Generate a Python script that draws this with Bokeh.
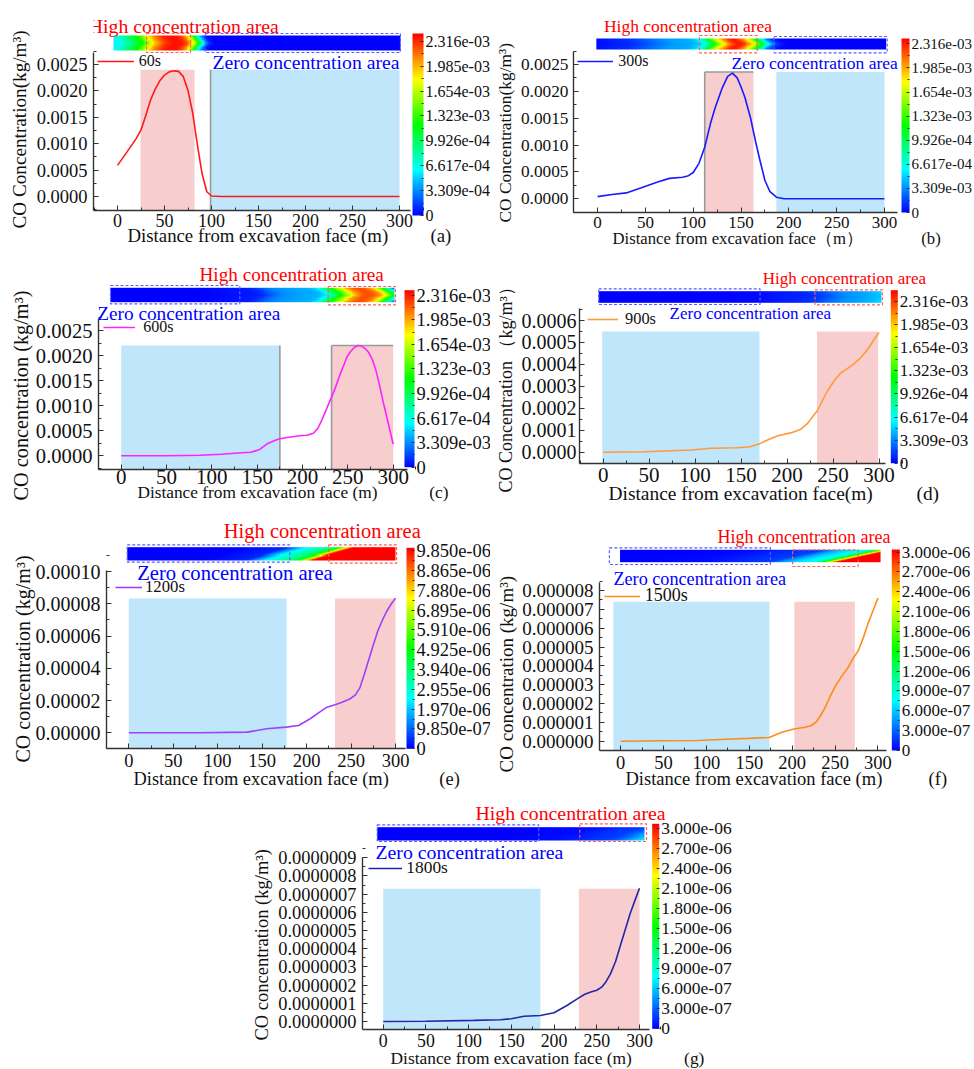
import colorsys
import numpy as np
from bokeh.core.properties import value
from bokeh.embed import file_html
from bokeh.layouts import column, row
from bokeh.models import (ColorBar, FixedTicker, Label, Legend, LegendItem,
                          LinearColorMapper, PrintfTickFormatter, Range1d, Spacer, Title)
from bokeh.plotting import figure
from bokeh.resources import INLINE

# ------------------------------------------------------------------ data
series_names = ["60s", "300s", "600s", "900s", "1200s", "1500s", "1800s"]
panel_letters = ["(a)", "(b)", "(c)", "(d)", "(e)", "(f)", "(g)"]
high_text = "High concentration area"
zero_text = "Zero concentration area"

dist_60 = [0, 10, 20, 25, 30, 35, 40, 45, 50, 55, 60, 65, 70, 75, 80, 85, 90, 95, 100, 110, 150, 200, 250, 300]
conc_60 = [0.00059, 0.00084, 0.00110, 0.00126, 0.00153, 0.00182, 0.00203, 0.00219, 0.00230, 0.00236, 0.00238,
           0.00237, 0.00227, 0.00201, 0.00158, 0.00098, 0.00043, 0.00009, 0.00001, 0.0, 0.0, 0.0, 0.0, 0.0]

dist_300 = [0, 15, 30, 45, 62, 75, 89, 95, 100, 106, 112, 118, 123, 130, 136, 141, 146, 150, 154, 160, 165,
            170, 175, 180, 187, 195, 250, 300]
conc_300 = [0.00004, 0.00008, 0.00011, 0.00020, 0.00031, 0.00038, 0.00040, 0.00043, 0.00049, 0.00066, 0.00096,
            0.00140, 0.00170, 0.00205, 0.00228, 0.00234, 0.00225, 0.00208, 0.00189, 0.00150, 0.00108, 0.00070,
            0.00034, 0.00014, 0.00003, 0.0, 0.0, 0.0]

dist_600 = [0, 50, 87, 110, 125, 143, 152, 161, 170, 175, 185, 197, 205, 212, 217, 221, 228, 235, 242, 249, 253,
            257, 261, 265, 269, 273, 277, 281, 285, 289, 293, 297, 300]
conc_600 = [0.0, 0.0, 0.00001, 0.00003, 0.00005, 0.00007, 0.00012, 0.00024, 0.00031, 0.00034, 0.00037, 0.00040,
            0.00041, 0.00045, 0.00055, 0.00070, 0.00100, 0.00130, 0.00165, 0.00197, 0.00208, 0.00216, 0.00220,
            0.00219, 0.00214, 0.00206, 0.00192, 0.00170, 0.00140, 0.00107, 0.00077, 0.00046, 0.00023]

dist_900 = [0, 45, 96, 117, 146, 160, 170, 180, 190, 204, 215, 222, 233, 244, 252, 258, 265, 272, 280, 288, 294, 300]
conc_900 = [0.0, 0.000002, 0.00001, 0.000018, 0.00002, 0.000025, 0.000038, 0.000058, 0.000075, 0.000088,
            0.000105, 0.00013, 0.00019, 0.00028, 0.00033, 0.00036, 0.00038, 0.0004, 0.00043, 0.00047, 0.00051,
            0.000545]

dist_1200 = [0, 80, 133, 155, 177, 191, 204, 215, 223, 232, 240, 249, 255, 260, 265, 270, 275, 280, 285, 290,
             295, 300]
conc_1200 = [0.0, 0.0, 0.0000004, 0.0000025, 0.0000035, 0.0000045, 0.0000087, 0.000013, 0.0000159, 0.0000174,
             0.000019, 0.0000211, 0.0000235, 0.000028, 0.0000365, 0.0000455, 0.0000545, 0.000063, 0.0000695,
             0.0000752, 0.0000797, 0.0000835]

dist_1500 = [0, 50, 90, 130, 150, 173, 188, 202, 215, 222, 228, 233, 238, 244, 250, 257, 265, 271, 277, 283,
             288, 294, 300]
conc_1500 = [0.0, 0.00000002, 0.00000004, 0.00000012, 0.00000015, 0.0000002, 0.00000048, 0.00000065,
             0.00000074, 0.00000082, 0.00000102, 0.00000135, 0.00000175, 0.00000235, 0.0000029, 0.0000034,
             0.0000039, 0.0000044, 0.0000048, 0.0000055, 0.0000062, 0.0000069, 0.0000076]

dist_1800 = [0, 50, 106, 137, 150, 165, 184, 200, 215, 229, 236, 243, 250, 256, 261, 266, 272, 277, 283, 289,
             295, 300]
conc_1800 = [0.0, 0.000000001, 0.000000006, 0.00000001, 0.000000015, 0.000000029, 0.000000033, 0.000000048,
             0.000000088, 0.00000013, 0.00000015, 0.000000162, 0.000000172, 0.00000019, 0.00000022,
             0.000000262, 0.00000033, 0.000000408, 0.0000005, 0.000000592, 0.00000067, 0.000000733]

# shaded areas on the charts (m) and their heights
zero_area = [[99, 300], [187, 300], [0, 175], [-1, 170], [0, 177.5], [-8.5, 173.5], [0, 184]]
high_area = [[24.5, 82], [112, 163], [232, 300], [232.5, 299], [232, 300], [202.5, 273], [229, 300]]
shade_top = [0.0024, 0.00236, 0.0022, 0.00055, 0.0000832, 0.0000074, 0.00000073]

# dashed boxes on the contour strips (m)
strip_zero = [[93.6, 301], [184.5, 302.8], [-11.8, 130.8], [-4.8, 170.6], [-1.8, 181.1], [-13.1, 174.6], [-7, 182.1]]
strip_high = [[30.9, 77.7], [106.6, 166.8], [228.3, 302.5], [230.3, 303.7], [225, 301.2], [200.5, 276.9], [230.1, 308.2]]

xticks = [0, 50, 100, 150, 200, 250, 300]
xminor = [-25, 25, 75, 125, 175, 225, 275, 325]

yt_abc = [0, 0.0005, 0.001, 0.0015, 0.002, 0.0025]
yl_abc = ["0.0000", "0.0005", "0.0010", "0.0015", "0.0020", "0.0025"]
yt_d = [0, 0.0001, 0.0002, 0.0003, 0.0004, 0.0005, 0.0006]
yl_d = ["0.0000", "0.0001", "0.0002", "0.0003", "0.0004", "0.0005", "0.0006"]
yt_e = [0, 0.00002, 0.00004, 0.00006, 0.00008, 0.0001]
yl_e = ["0.00000", "0.00002", "0.00004", "0.00006", "0.00008", "0.00010"]
yt_f = [0, 0.000001, 0.000002, 0.000003, 0.000004, 0.000005, 0.000006, 0.000007, 0.000008]
yl_f = ["0.000000", "0.000001", "0.000002", "0.000003", "0.000004", "0.000005", "0.000006", "0.000007", "0.000008"]
yt_g = [0, 1e-7, 2e-7, 3e-7, 4e-7, 5e-7, 6e-7, 7e-7, 8e-7, 9e-7]
yl_g = ["0.0000000", "0.0000001", "0.0000002", "0.0000003", "0.0000004", "0.0000005", "0.0000006",
        "0.0000007", "0.0000008", "0.0000009"]

cb_t1 = [0, 3.309e-4, 6.617e-4, 9.926e-4, 1.323e-3, 1.654e-3, 1.985e-3, 2.316e-3]
cb_l_a = ["0", "3.309e-04", "6.617e-04", "9.926e-04", "1.323e-03", "1.654e-03", "1.985e-03", "2.316e-03"]
cb_l_bcd = ["0", "3.309e-03", "6.617e-04", "9.926e-04", "1.323e-03", "1.654e-03", "1.985e-03", "2.316e-03"]
cb_t_e = [0, 9.85e-7, 1.97e-6, 2.955e-6, 3.94e-6, 4.925e-6, 5.91e-6, 6.895e-6, 7.88e-6, 8.865e-6, 9.85e-6]
cb_l_e = ["0", "9.850e-07", "1.970e-06", "2.955e-06", "3.940e-06", "4.925e-06", "5.910e-06", "6.895e-06",
          "7.880e-06", "8.865e-06", "9.850e-06"]
cb_t_fg = [0, 3e-7, 6e-7, 9e-7, 1.2e-6, 1.5e-6, 1.8e-6, 2.1e-6, 2.4e-6, 2.7e-6, 3e-6]
cb_l_fg = ["0", "3.000e-07", "6.000e-07", "9.000e-07", "1.200e-06", "1.500e-06", "1.800e-06", "2.100e-06",
           "2.400e-06", "2.700e-06", "3.000e-06"]
cb_high = [2.418e-3, 2.389e-3, 2.382e-3, 2.478e-3, 9.99e-6, 3.04e-6, 3.066e-6]

# ------------------------------------------------------------------ style
SERIF = "Liberation Serif"
PINK = "#f7cdcd"
SKY = "#bfe6fa"
TXT = "#111111"
AX = "#333333"
NBSP = "\u00a0"


def rainbow(n=256):
    out = []
    for i in range(n):
        t = i / (n - 1)
        r, g, b = colorsys.hsv_to_rgb((1 - t) * 240 / 360, 1, 1)
        out.append("#%02x%02x%02x" % (int(r * 255), int(g * 255), int(b * 255)))
    return out


RAINBOW = rainbow()


def strip_image(dist, conc, mode, amp, nrow=12, ncol=320):
    tx = np.linspace(0, 300, ncol)
    rows = []
    for r in range(nrow):
        f = r / (nrow - 1)
        s = amp * (1 - abs(2 * f - 1)) if mode == "chevron" else amp * f
        rows.append(np.interp(tx - s, dist, conc))
    return np.array(rows)


def style_axis(ax, tick_font, tick_standoff):
    ax.major_label_text_font = SERIF
    ax.major_label_text_font_size = f"{tick_font}px"
    ax.major_label_text_color = TXT
    ax.major_label_standoff = int(tick_standoff)
    ax.axis_line_color = AX
    ax.axis_line_width = 1.4
    ax.major_tick_line_color = AX
    ax.minor_tick_line_color = AX
    ax.major_tick_in = 5
    ax.major_tick_out = 0
    ax.minor_tick_in = 3
    ax.minor_tick_out = 0


def make_panel(i, g, dist, conc, line_color, yticks, ylabels, ytitle, xtitle, cb_ticks, cb_labels):
    left, top, w, h = g["fig"]
    fl, fr, ft, fb = g["frame"]
    x0p, x300p = g["xpx"]
    y0p, ytp, ytv = g["ypx"]
    xs = (x300p - x0p) / 300.0
    ys = (y0p - ytp) / ytv

    def dx(px):
        return (px - x0p) / xs

    def dy(py):
        return (y0p - py) / ys

    p = figure(width=w, height=h, x_range=Range1d(dx(fl), dx(fr)), y_range=Range1d(dy(fb), dy(ft)),
               output_backend="svg", toolbar_location=None,
               min_border_left=fl - left, min_border_right=left + w - fr,
               min_border_top=ft - top, min_border_bottom=top + h - fb,
               outline_line_color=None)
    p.grid.visible = False

    ybot = dy(fb)
    p.quad(left=[zero_area[i][0]], right=[zero_area[i][1]], bottom=[ybot], top=[shade_top[i]],
           fill_color=SKY, line_color=None)
    p.quad(left=[high_area[i][0]], right=[high_area[i][1]], bottom=[ybot], top=[shade_top[i]],
           fill_color=PINK, line_color=None)
    # grey edges drawn on some of the shaded areas
    for which, side in g.get("edges", []):
        a = zero_area[i] if which == "zero" else high_area[i]
        if side == "top":
            p.segment(x0=[a[0]], y0=[shade_top[i]], x1=[a[1]], y1=[shade_top[i]], line_color="#9a9a9a", line_width=1.6)
        else:
            xv = a[0] if side == "left" else a[1]
            p.segment(x0=[xv], y0=[ybot], x1=[xv], y1=[shade_top[i]], line_color="#9a9a9a", line_width=1.6)

    # contour strip
    mapper = LinearColorMapper(palette=RAINBOW, low=0, high=cb_high[i])
    sx0, sx1, sy0, sy1 = g["strip"]
    img = strip_image(dist, conc, g["strip_mode"], g["strip_amp"])
    p.image(image=[img], x=dx(sx0), y=dy(sy1), dw=dx(sx1) - dx(sx0), dh=dy(sy0) - dy(sy1),
            color_mapper=mapper)
    zy0, zy1 = g["box_zero_y"]
    hy0, hy1 = g["box_high_y"]
    p.quad(left=[strip_zero[i][0]], right=[strip_zero[i][1]], bottom=[dy(zy1)], top=[dy(zy0)],
           fill_color=None, line_color="#5c5cff", line_dash="3 2", line_width=1.2)
    p.quad(left=[strip_high[i][0]], right=[strip_high[i][1]], bottom=[dy(hy1)], top=[dy(hy0)],
           fill_color=None, line_color="#ff5c5c", line_dash="3 2", line_width=1.2)

    r = p.line(dist, conc, line_color=line_color, line_width=1.6)

    # axes
    p.xaxis.ticker = FixedTicker(ticks=xticks, minor_ticks=xminor)
    step = yticks[1] - yticks[0]
    ymin = [t - step / 2 for t in yticks] + [yticks[-1] + step / 2]
    p.yaxis.ticker = FixedTicker(ticks=yticks, minor_ticks=ymin)
    p.yaxis.formatter = PrintfTickFormatter(format="%.7f")
    p.yaxis.major_label_overrides = dict(zip(yticks, ylabels))
    p.xaxis.bounds = (dx(fl), dx(g["xbound"]))
    p.yaxis.bounds = (dy(fb), dy(g["ybound"]))
    style_axis(p.xaxis[0], g["xtick_font"], g["xtick_standoff"])
    style_axis(p.yaxis[0], g["ytick_font"], g["ytick_standoff"])

    # axis titles as side-panel titles
    p.add_layout(Title(text=ytitle, align="left", offset=int(round(fb - g["ytitle_bottom"])),
                       standoff=int(g["ytitle_standoff"]), text_font=SERIF,
                       text_font_size=f"{g['ytitle_font']}px", text_font_style="normal", text_color=TXT),
                 "left")
    xt_left, gap = g["xtitle_pos"]
    p.add_layout(Title(text=xtitle + NBSP * gap + panel_letters[i], align="left",
                       offset=int(round(xt_left - fl)), standoff=int(g["xtitle_standoff"]),
                       text_font=SERIF, text_font_size=f"{g['xtitle_font']}px", text_font_style="normal",
                       text_color=TXT),
                 "below")

    # colour bar
    cx0, cx1, cy0, cy1 = g["cb"]
    cstep = cb_ticks[1] - cb_ticks[0]
    cminor = [t + cstep / 2 for t in cb_ticks[:-1]]
    cb = ColorBar(color_mapper=mapper, ticker=FixedTicker(ticks=cb_ticks, minor_ticks=cminor),
                  major_label_overrides=dict(zip(cb_ticks, cb_labels)),
                  width=int(round(cx1 - cx0)), height=int(round(cy1 - cy0)),
                  location=(cx0 - fl, fb - cy1), padding=0, margin=0, label_standoff=2,
                  major_tick_line_color="#333333", major_tick_in=3, major_tick_out=0,
                  minor_tick_line_color="#333333", minor_tick_in=2, minor_tick_out=0,
                  bar_line_color=None, border_line_color=None, background_fill_alpha=0,
                  major_label_text_font=SERIF, major_label_text_font_size=f"{g['cb_font']}px",
                  major_label_text_color=TXT)
    p.add_layout(cb)

    # legend
    lx0, lx1, lyc, lstand = g["legend"]
    leg = Legend(items=[LegendItem(label=value(series_names[i]), renderers=[r])],
                 location=(lx0 - fl, fb - (lyc + 10)), glyph_width=int(round(lx1 - lx0)), glyph_height=20,
                 label_height=20, label_standoff=int(round(lstand)), padding=0, margin=0, spacing=0,
                 border_line_color=None, background_fill_alpha=0,
                 label_text_font=SERIF, label_text_font_size=f"{g['leg_font']}px", label_text_color=TXT)
    p.add_layout(leg)

    hx, hy, hf = g["high_txt"]
    zx, zy, zf = g["zero_txt"]
    p.add_layout(Label(x=dx(hx), y=dy(hy), text=high_text, text_font=SERIF, text_font_size=f"{hf}px",
                       text_color="#ff0000", text_baseline="middle", text_align="left"))
    p.add_layout(Label(x=dx(zx), y=dy(zy), text=zero_text, text_font=SERIF, text_font_size=f"{zf}px",
                       text_color="#0000ff", text_baseline="middle", text_align="left"))
    return p


# ------------------------------------------------------------------ layout (page pixels)
GEO = [
    dict(fig=(0, 0, 490, 260), frame=(93, 490, 8, 210), xpx=(117, 399), ypx=(196, 64, 0.0025), ybound=52,
         xbound=410, strip=(113, 400, 35, 50), box_zero_y=(33, 52), box_high_y=(33, 52), strip_mode="chevron",
         strip_amp=6, cb=(412, 423, 33, 215), cb_font=16, legend=(96.7, 133.3, 61, 4.7), leg_font=16,
         high_txt=(88.3, 25, 19.8), zero_txt=(212, 61, 19.7), edges=[("zero", "left")],
         ytick_font=18.5, ytick_standoff=6, ytitle_font=19.2, ytitle_standoff=7, ytitle_bottom=228,
         xtick_font=18, xtick_standoff=3, xtitle_font=18.8, xtitle_standoff=-13, xtitle_pos=(127.3, 9)),
    dict(fig=(490, 0, 484, 260), frame=(570, 974, 8, 212), xpx=(594.3, 883.3), ypx=(198.3, 64, 0.0025),
         ybound=50.7, xbound=896.7, strip=(593, 885, 38, 49), box_zero_y=(36, 52.3), box_high_y=(35, 52.3),
         strip_mode="chevron", strip_amp=8, cb=(898, 906, 38, 212), cb_font=15, legend=(574.3, 610, 61, 5),
         leg_font=16, high_txt=(600.7, 25, 17.5), zero_txt=(729.3, 62.3, 17.5),
         edges=[("high", "left"), ("high", "top")],
         ytick_font=17.3, ytick_standoff=5, ytitle_font=17.4, ytitle_standoff=5, ytitle_bottom=221.7,
         xtick_font=17, xtick_standoff=4, xtitle_font=16.7, xtitle_standoff=-8, xtitle_pos=(609, 14)),
    dict(fig=(0, 260, 490, 252), frame=(98, 490, 262, 469), xpx=(120.7, 392.7), ypx=(455.3, 330, 0.0025),
         ybound=318.3, xbound=406.7, strip=(110, 394, 287.3, 301.7), box_zero_y=(285, 303.3),
         box_high_y=(286, 304.3), strip_mode="chevron", strip_amp=12, cb=(404, 414, 290, 466.7), cb_font=18.5,
         legend=(103.3, 135, 326.7, 8), leg_font=16, high_txt=(199, 274, 19.2), zero_txt=(96.7, 313.3, 19.3),
         edges=[("zero", "right"), ("high", "left"), ("high", "top")],
         ytick_font=20.6, ytick_standoff=6, ytitle_font=20.3, ytitle_standoff=2, ytitle_bottom=500,
         xtick_font=21, xtick_standoff=0, xtitle_font=17.3, xtitle_standoff=-12, xtitle_pos=(137, 12)),
    dict(fig=(490, 260, 484, 252), frame=(578, 974, 262, 463), xpx=(601.7, 878.3), ypx=(451.7, 320, 0.0006),
         ybound=308.3, xbound=885, strip=(597.3, 880.7, 290.7, 302.3), box_zero_y=(288.3, 304),
         box_high_y=(289.3, 304.3), strip_mode="chevron", strip_amp=10, cb=(889.3, 896.7, 289.3, 462.7),
         cb_font=17, legend=(586, 617, 319.3, 7), leg_font=16.4, high_txt=(761.7, 278.3, 17),
         zero_txt=(668.3, 313.3, 17),
         ytick_font=20, ytick_standoff=3, ytitle_font=18, ytitle_standoff=6, ytitle_bottom=492,
         xtick_font=21, xtick_standoff=4, xtitle_font=19.4, xtitle_standoff=-7, xtitle_pos=(606.7, 9)),
    dict(fig=(0, 512, 490, 288), frame=(106, 490, 514, 748), xpx=(128.3, 395), ypx=(732.3, 571, 0.0001),
         ybound=570, xbound=405, strip=(126.7, 395, 546.7, 560), box_zero_y=(544.3, 561.7),
         box_high_y=(544.3, 562.7), strip_mode="diag", strip_amp=45, cb=(406, 414.3, 547.3, 748.3),
         cb_font=18.5, legend=(115, 141.7, 586.7, 3.3), leg_font=16.7, high_txt=(223.3, 530.7, 20.5),
         zero_txt=(136.7, 572.3, 20.6),
         ytick_font=20, ytick_standoff=6, ytitle_font=20, ytitle_standoff=-2, ytitle_bottom=762,
         xtick_font=18.5, xtick_standoff=5, xtitle_font=18.4, xtitle_standoff=-6, xtitle_pos=(133, 11)),
    dict(fig=(490, 512, 484, 288), frame=(596, 974, 514, 750), xpx=(617.3, 876.7), ypx=(740.7, 590, 8e-6),
         ybound=581.7, xbound=885, strip=(616.7, 879.3, 549.3, 561.7), box_zero_y=(547.3, 564),
         box_high_y=(549.3, 566), strip_mode="diag", strip_amp=60, cb=(888.3, 896.7, 549, 750), cb_font=17,
         legend=(600.7, 636.7, 596, 5), leg_font=18, high_txt=(715, 536.7, 18), zero_txt=(610, 578.3, 18.2),
         ytick_font=19, ytick_standoff=6, ytitle_font=19, ytitle_standoff=6, ytitle_bottom=772,
         xtick_font=18.5, xtick_standoff=5, xtitle_font=18.5, xtitle_standoff=-10, xtitle_pos=(621.7, 10)),
    dict(fig=(245, 800, 490, 269), frame=(362, 735, 800, 1029), xpx=(382.7, 639), ypx=(1021, 857.3, 9e-7),
         ybound=857.3, xbound=649.3, strip=(376.7, 644, 826.7, 840), box_zero_y=(824.3, 841),
         box_high_y=(823.3, 841), strip_mode="diag", strip_amp=40, cb=(651.7, 658.3, 823.3, 1028.3),
         cb_font=17.5, legend=(368.3, 402.7, 868.3, 4), leg_font=17.4, high_txt=(475, 812.7, 19.8),
         zero_txt=(375, 851.7, 19.8),
         ytick_font=18.4, ytick_standoff=6, ytitle_font=18.5, ytitle_standoff=7, ytitle_bottom=1040,
         xtick_font=17.8, xtick_standoff=4, xtitle_font=17.4, xtitle_standoff=-7, xtitle_pos=(390, 12)),
]

XT = "Distance from excavation face (m)"
pa = make_panel(0, GEO[0], dist_60, conc_60, "#ff1a1a", yt_abc, yl_abc, "CO Concentration(kg/m³)", XT,
                cb_t1, cb_l_a)
pb = make_panel(1, GEO[1], dist_300, conc_300, "#1a1aff", yt_abc, yl_abc, "CO Concentration(kg/m³)",
                "Distance from excavation face（m）", cb_t1, cb_l_bcd)
pc = make_panel(2, GEO[2], dist_600, conc_600, "#ff22ff", yt_abc, yl_abc, "CO concentration (kg/m³)", XT,
                cb_t1, cb_l_bcd)
pd = make_panel(3, GEO[3], dist_900, conc_900, "#ff9a3c", yt_d, yl_d, "CO Concentration （kg/m³）",
                "Distance from excavation face(m)", cb_t1, cb_l_bcd)
pe = make_panel(4, GEO[4], dist_1200, conc_1200, "#9f3fff", yt_e, yl_e, "CO concentration (kg/m³)", XT,
                cb_t_e, cb_l_e)
pf = make_panel(5, GEO[5], dist_1500, conc_1500, "#ff8c1a", yt_f, yl_f, "CO concentration (kg/m³)", XT,
                cb_t_fg, cb_l_fg)
pg = make_panel(6, GEO[6], dist_1800, conc_1800, "#2525a8", yt_g, yl_g, "CO concentration (kg/m³)", XT,
                cb_t_fg, cb_l_fg)

# every figure sits in its own column so that row-mates do not share frame borders
layout = column(
    row(column(pa), column(pb)),
    row(column(pc), column(pd)),
    row(column(pe), column(pf)),
    row(Spacer(width=245, height=269), column(pg)),
)

html = file_html(layout, INLINE)
html = html.replace("</head>", "<style>html,body{margin:0;padding:0;overflow:hidden;}</style></head>", 1)
open("out.html", "w").write(html)
